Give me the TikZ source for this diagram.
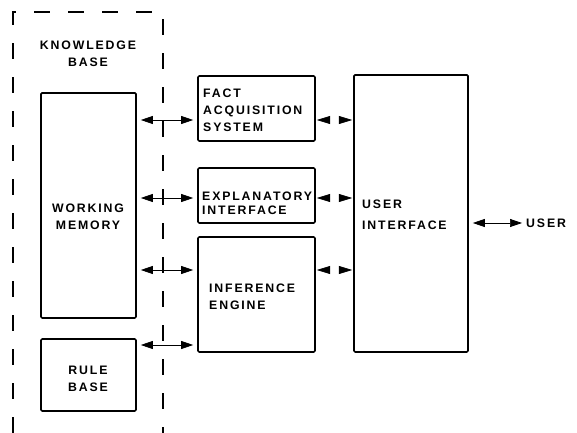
\documentclass[tikz,border=0pt]{standalone}
\usepackage{fontspec}
\newfontfamily\boxfont[LetterSpace=15, BoldFont={Liberation Sans Bold}]{Liberation Sans}
\usetikzlibrary{arrows.meta}

\begin{document}
\begin{tikzpicture}[
    x=0.03cm, y=-0.03cm,
    box/.style={draw, line width=1.4pt, rounded corners=1pt, inner sep=0pt},
    lbl/.style={font=\boxfont\bfseries\fontsize{10.5}{14.5}\selectfont, align=center, inner sep=0pt},
    lbll/.style={lbl, align=left, anchor=west},
    link/.style={{Triangle[length=0.36cm, width=0.24cm]}-{Triangle[length=0.36cm, width=0.24cm]},
        line width=0.6pt, shorten <=0.12cm, shorten >=0.12cm},
    gap/.style={{Triangle[black, length=0.4cm, width=0.24cm]}-{Triangle[black, length=0.4cm, width=0.24cm]},
        draw=white, line width=0.6pt, shorten <=0.03cm, shorten >=0.03cm},
    kbline/.style={line width=1.5pt, dash pattern=on 0.48cm off 0.54cm}
]
\useasboundingbox (0,0) rectangle (577,433);

% Knowledge base frame
\draw[kbline] (13,433) -- (13,12) -- (163,12) -- (163,433);
\node[lbl] (kb) at (88,53.5) {KNOWLEDGE\\BASE};

% Boxes
\node[box, minimum width=2.85cm, minimum height=6.75cm] (wm) at (88.5,205.5) {};
\node[box, minimum width=2.85cm, minimum height=2.16cm] (rule) at (88.5,375) {};
\node[box, minimum width=3.51cm, minimum height=1.95cm] (fact) at (256.5,108.5) {};
\node[box, minimum width=3.51cm, minimum height=1.65cm] (expl) at (256.5,195.5) {};
\node[box, minimum width=3.51cm, minimum height=3.45cm] (infer) at (256.5,294.5) {};
\node[box, minimum width=3.42cm, minimum height=8.31cm] (ui) at (411,213.5) {};

% Texts
\node[lbl] (wmtext) at (88,216.5) {WORKING\\MEMORY};
\node[lbl] (ruletext) at (88,378.5) {RULE\\BASE};
\node[lbll] (facttext) at (203,110.5) {FACT\\ACQUISITION\\SYSTEM};
\node[lbll] (expltext) at (202,203.5) {EXPLANATORY\\[-3pt]INTERFACE};
\node[lbll] (infertext) at (209,296.5) {INFERENCE\\ENGINE};
\node[lbll] (uitext) at (362,214.5) {USER\\[3.4pt]INTERFACE};
\node[lbll] (user) at (526,223) {USER};

% Rows of the connectors
\coordinate (r1) at (0,120);
\coordinate (r2) at (0,198);
\coordinate (r3) at (0,270);
\coordinate (r4) at (0,345);

% Connections into the knowledge base
\foreach \a/\b/\r in {wm/fact/r1, wm/expl/r2, wm/infer/r3, rule/infer/r4} {
    \draw[link] (\a.east |- \r) -- (\b.west |- \r);
}

% Connections to the user interface
\foreach \b/\r in {fact/r1, expl/r2, infer/r3} {
    \draw[gap] (\b.east |- \r) -- (ui.west |- \r);
}

\draw[link] (ui.east |- user.west) -- (user.west);

\end{tikzpicture}
\end{document}
